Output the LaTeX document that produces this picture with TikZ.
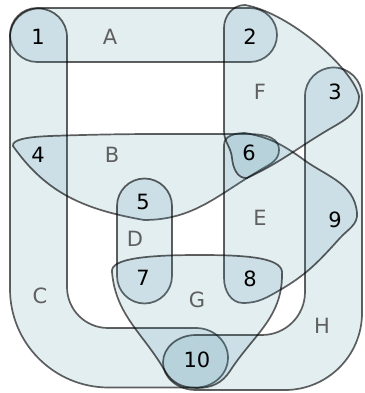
\documentclass[tikz,border=0pt]{standalone}
\usepackage{fontspec}
\setmainfont{DejaVu Sans}
\definecolor{edgefill}{RGB}{60,132,158}
\definecolor{edgetext}{RGB}{95,95,95}
\begin{document}
\begin{tikzpicture}[x=1pt,y=1pt,line join=round,
    hedge/.style={fill=edgefill,fill opacity=0.14,draw=black,draw opacity=0.62,line width=1.7pt},
    vlabel/.style={font=\fontsize{21}{21}\selectfont},
    elabel/.style={font=\fontsize{21}{21}\selectfont,text=edgetext}]
  \useasboundingbox (0,0) rectangle (364,393);
  % hyperedges
  \draw[hedge] (37,385) -- (250,385) arc[start angle=90,end angle=-90,radius=27]
    -- (37,331) arc[start angle=270,end angle=90,radius=27] -- cycle; % A
  \draw[hedge] (10,356) -- (10,104) arc[start angle=180,end angle=270,radius=98.5]
    -- (196,5.5) arc[start angle=-90,end angle=90,x radius=32,y radius=29.75]
    -- (108,65) arc[start angle=270,end angle=180,radius=41]
    -- (67,356) arc[start angle=0,end angle=180,radius=28.5] -- cycle; % C
  \draw[hedge] (305,297) arc[start angle=180,end angle=0,radius=28.5]
    -- (362,80) arc[start angle=0,end angle=-90,radius=77]
    -- (196,3) arc[start angle=270,end angle=90,x radius=33,y radius=27.5]
    -- (262,58) arc[start angle=-90,end angle=0,radius=43] -- cycle; % H
  \draw[hedge] (50,257) to[out=2,in=180] (240,259) to[out=0,in=90] (279,243)
    to[out=-90,in=30] (262,224) to[out=210,in=0] (144,173) to[out=170,in=-55] (13,247)
    .. controls (12,253) and (25,256) .. (50,257) -- cycle; % B
  \draw[hedge] (117,187) arc[start angle=180,end angle=0,radius=27.5]
    -- (172,117) arc[start angle=0,end angle=-180,radius=27.5] -- cycle; % D
  \draw[hedge] (224,248) to[out=90,in=180] (245,260) to[out=-10,in=145] (300,236)
    to[out=-38,in=95] (357,180) to[out=-85,in=48] (340,155) to[out=228,in=30] (280,103)
    to[out=210,in=0] (243,90) to[out=180,in=-90] (224,115) -- cycle; % E
  \draw[hedge] (224,365) -- (224,262) to[out=-90,in=95] (232,235) to[out=-85,in=185] (247,215)
    to[out=25,in=210] (333,266) to[out=30,in=-90] (359,297)
    .. controls (352,325) and (290,380) .. (245,388) to[out=180,in=90] (224,365) -- cycle; % F
  \draw[hedge] (112,121) .. controls (110,135) and (150,138) .. (200,138)
    .. controls (250,138) and (285,135) .. (282,118) to[out=-90,in=57] (230,22)
    to[out=237,in=0] (197,5) to[out=180,in=-60] (165,22) to[out=120,in=-85] (112,121) -- cycle; % G
  % vertices
  \node[vlabel] (v1) at (38,356) {1};
  \node[vlabel] (v2) at (250,356) {2};
  \node[vlabel] (v3) at (335,301) {3};
  \node[vlabel] (v4) at (38,238) {4};
  \node[vlabel] (v5) at (143,191) {5};
  \node[vlabel] (v6) at (249,240) {6};
  \node[vlabel] (v7) at (143,115) {7};
  \node[vlabel] (v8) at (250,114) {8};
  \node[vlabel] (v9) at (335,173) {9};
  \node[vlabel] (v10) at (197,33) {10};
  % edge names
  \node[elabel] (lA) at (110,356) {A};
  \node[elabel] (lB) at (112,238) {B};
  \node[elabel] (lC) at (40,97) {C};
  \node[elabel] (lD) at (135,154) {D};
  \node[elabel] (lE) at (260,175) {E};
  \node[elabel] (lF) at (260,301) {F};
  \node[elabel] (lG) at (197,93) {G};
  \node[elabel] (lH) at (322,67) {H};
\end{tikzpicture}
\end{document}
